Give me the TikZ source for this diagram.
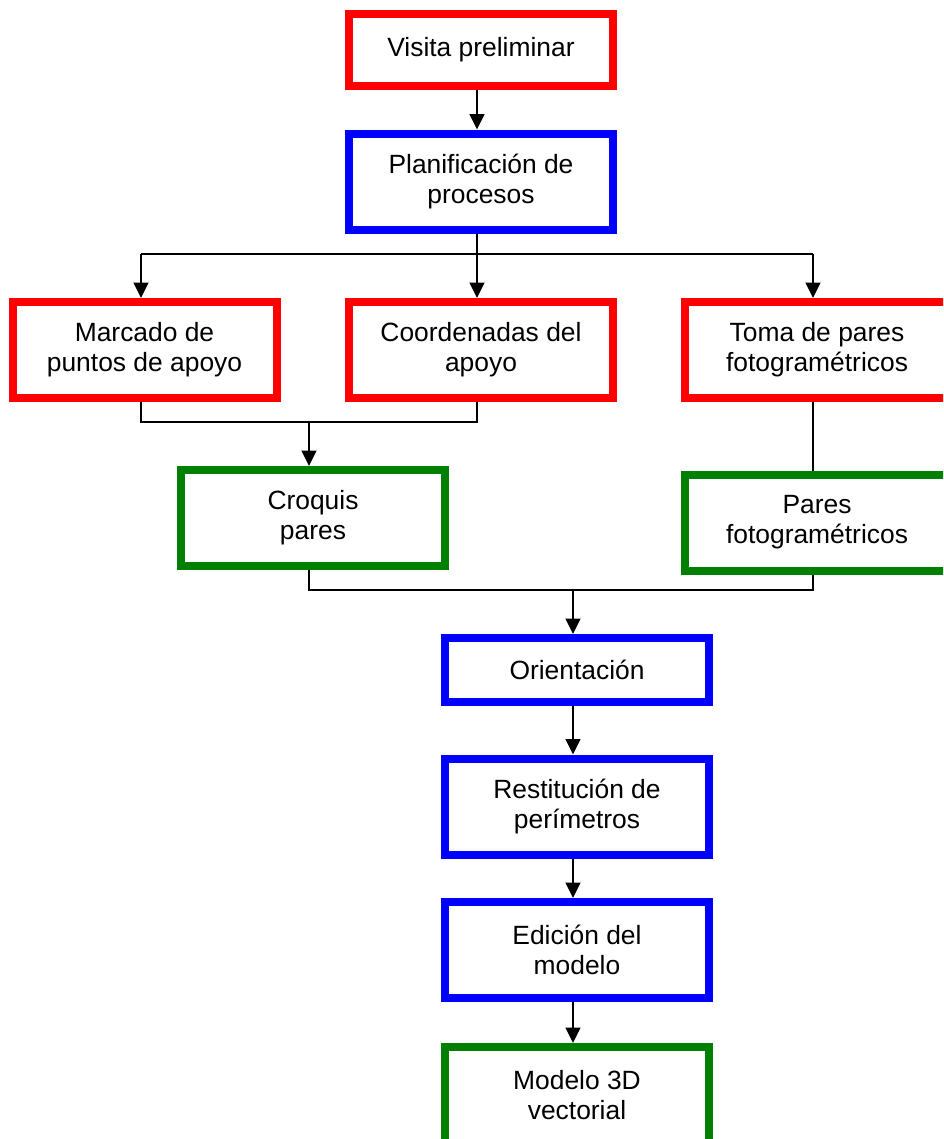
\documentclass[tikz,border=0pt]{standalone}
\usepackage{fontspec}
\setmainfont{Liberation Sans}
\usetikzlibrary{arrows.meta}
\definecolor{bred}{RGB}{255,0,0}
\definecolor{bblue}{RGB}{0,0,255}
\definecolor{bgreen}{RGB}{0,128,0}
\tikzset{
  box/.style={draw, line width=6pt, fill=white, minimum width=198pt, minimum height=72pt,
    align=center, inner sep=0pt, font=\fontsize{19.8pt}{22.5pt}\selectfont},
  redbox/.style={box, draw=bred},
  bluebox/.style={box, draw=bblue},
  greenbox/.style={box, draw=bgreen},
  conn/.style={line width=1.5pt, black},
  arr/.style={conn, -{Triangle[length=11.5pt, width=11pt]}},
}
\begin{document}
\begin{tikzpicture}[x=0.75pt, y=-0.75pt]
\clip (0,0) rectangle (943,1139);
\fill[white] (0,0) rectangle (943,1139);
% column coordinates for connectors
\coordinate (cA) at (141,0);
\coordinate (cB) at (477,0);
\coordinate (cC) at (813,0);
\coordinate (cD) at (309,0);
\coordinate (cE) at (573,0);
% nodes
\node[redbox, minimum height=54pt] (V) at (481,50) {Visita preliminar};
\node[bluebox] (P) at (481,181.5) {Planificación de\\procesos};
\node[redbox] (M) at (144.5,350) {Marcado de\\puntos de apoyo};
\node[redbox] (C) at (481,350) {Coordenadas del\\apoyo};
\node[redbox] (T) at (817,350) {Toma de pares\\fotogramétricos};
\node[greenbox] (Cr) at (313,518) {Croquis\\pares};
\node[greenbox] (Pa) at (817,522.5) {Pares\\fotogramétricos};
\node[bluebox, minimum height=48pt] (O) at (577,670) {Orientación};
\node[bluebox] (R) at (577,806.5) {Restitución de\\perímetros};
\node[bluebox] (E) at (577,950) {Edición del\\modelo};
\node[greenbox] (Mo) at (577,1095) {Modelo 3D\\vectorial};
% junction coordinates
\coordinate (j1) at (477,254);
\coordinate (j2) at (309,422);
\coordinate (j3) at (573,590);
% connectors
\draw[arr] (V.south -| cB) -- (P.north -| cB);
\draw[conn] (P.south -| cB) -- (j1);
\draw[conn] (j1 -| cA) -- (j1 -| cC);
\draw[arr] (j1 -| cA) -- (M.north -| cA);
\draw[arr] (j1) -- (C.north -| cB);
\draw[arr] (j1 -| cC) -- (T.north -| cC);
\draw[conn] (M.south -| cA) |- (j2) -| (C.south -| cB);
\draw[arr] (j2) -- (Cr.north -| cD);
\draw[conn] (T.south -| cC) -- (Pa.north -| cC);
\draw[conn] (Cr.south -| cD) |- (j3) -| (Pa.south -| cC);
\draw[arr] (j3) -- (O.north -| cE);
\draw[arr] (O.south -| cE) -- (R.north -| cE);
\draw[arr] (R.south -| cE) -- (E.north -| cE);
\draw[arr] (E.south -| cE) -- (Mo.north -| cE);
\end{tikzpicture}
\end{document}
